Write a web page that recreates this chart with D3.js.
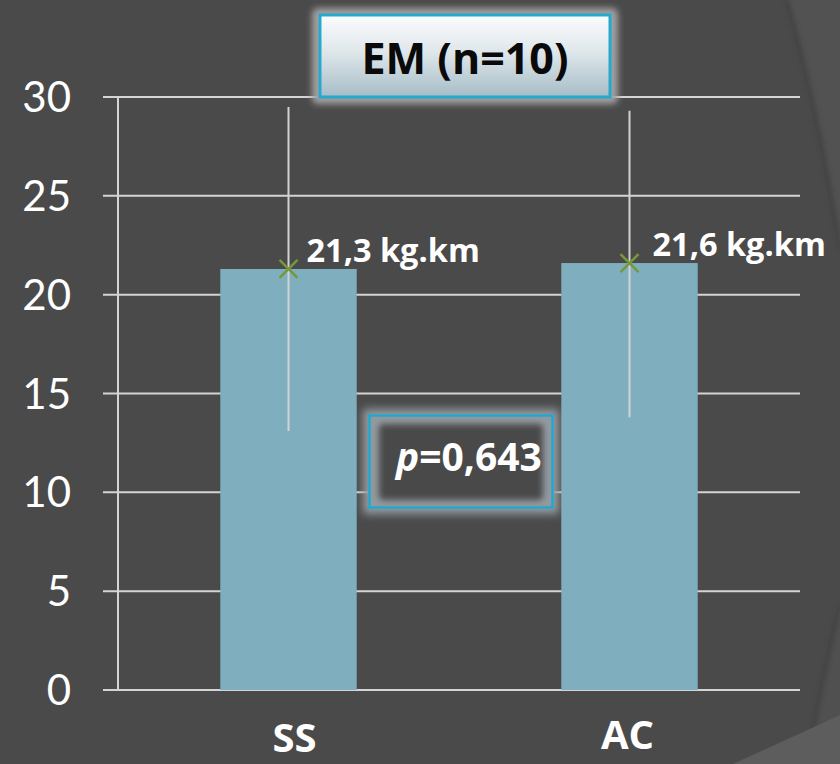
<!DOCTYPE html>
<html><head><meta charset="utf-8">
<script src="https://cdn.jsdelivr.net/npm/d3@7"></script>
<style>html,body{margin:0;padding:0;background:#4a4a4a;}svg{display:block;}</style>
</head><body>
<script>
const categories = ["SS", "AC"];
const means = [21.3, 21.6];
const errLow = [13.1, 13.8];
const errHigh = [29.5, 29.3];
const valueLabels = ["21,3 kg.km", "21,6 kg.km"];
const yTicks = [0, 5, 10, 15, 20, 25, 30];
const title = "EM (n=10)";
const pText = ["p", "=0,643"];

const W = 840, H = 764;
const FONT = "Lato, 'Open Sans', sans-serif";
const BFONT = "'Open Sans', Lato, sans-serif";
const svg = d3.select("body").append("svg").attr("width", W).attr("height", H);
const defs = svg.append("defs");
defs.append("filter").attr("id","blur4").attr("x","-20%").attr("y","-30%").attr("width","140%").attr("height","160%")
  .append("feGaussianBlur").attr("stdDeviation", 4);
defs.append("filter").attr("id","blur3").attr("x","-20%").attr("y","-30%").attr("width","140%").attr("height","160%")
  .append("feGaussianBlur").attr("stdDeviation", 3);
defs.append("filter").attr("id","blur2").append("feGaussianBlur").attr("stdDeviation", 2);
const grad = defs.append("linearGradient").attr("id","tgrad").attr("x1",0).attr("y1",0).attr("x2",0).attr("y2",1);
grad.append("stop").attr("offset","0%").attr("stop-color","#fbfcfd");
grad.append("stop").attr("offset","45%").attr("stop-color","#dfe7eb");
grad.append("stop").attr("offset","100%").attr("stop-color","#a6bcc6");

// background
svg.append("rect").attr("width", W).attr("height", H).attr("fill", "#4a4a4a");
// decorative curves
svg.append("path").attr("d","M787,0 Q818,110 840,248 L840,0 Z").attr("fill","#525252");
svg.append("path").attr("d","M787,0 Q818,110 840,248").attr("fill","none").attr("stroke","#424242").attr("stroke-width",4).attr("filter","url(#blur2)");
svg.append("path").attr("d","M840,605 Q820,690 807,764 L840,764 Z").attr("fill","#505050");
svg.append("path").attr("d","M840,605 Q820,690 807,764").attr("fill","none").attr("stroke","#434343").attr("stroke-width",4).attr("filter","url(#blur2)");
svg.append("path").attr("d","M733,764 L840,715 L840,764 Z").attr("fill","#5d5d5d");

const x0 = 118, x1 = 800, yTop = 97, yBot = 690;
const x = d3.scaleBand().domain(categories).range([x0, x1]).padding(0);
const y = d3.scaleLinear().domain([0, 30]).range([yBot, yTop]);
const barW = x.bandwidth() * 0.4;

// p-value box (behind gridlines)
const pb = svg.append("g");
pb.append("rect").attr("x",363).attr("y",409).attr("width",196).attr("height",105).attr("fill","#939ba0").attr("filter","url(#blur4)");
pb.append("rect").attr("x",379).attr("y",424).attr("width",164).attr("height",76).attr("rx",4).attr("fill","#4a4a4a").attr("filter","url(#blur3)");

// gridlines
svg.append("g").selectAll("line").data(yTicks).join("line")
  .attr("x1", x0 - 15).attr("x2", x1).attr("y1", d => y(d)).attr("y2", d => y(d))
  .attr("stroke", "#d4d4d4").attr("stroke-width", 2);
// y axis line
svg.append("line").attr("x1", x0).attr("x2", x0).attr("y1", yTop).attr("y2", yBot).attr("stroke","#d4d4d4").attr("stroke-width",2);

// p box border
pb.raise();
pb.append("rect").attr("x",369.5).attr("y",415.5).attr("width",183).attr("height",92).attr("fill","none").attr("stroke","#22a8d0").attr("stroke-width",2.5);
const pt = pb.append("text").attr("x",396).attr("y",471).attr("font-family",BFONT).attr("font-weight","bold").attr("font-size",39).attr("fill","#ffffff");
pt.append("tspan").attr("font-style","italic").text(pText[0]);
pt.append("tspan").text(pText[1]);

// y tick labels
svg.append("g").selectAll("text").data(yTicks).join("text")
  .attr("x", 71).attr("y", d => y(d) + 15).attr("text-anchor","end")
  .attr("font-family", FONT).attr("font-size", 42).attr("fill","#ffffff").text(d => d);

// bars
svg.append("g").selectAll("rect").data(categories).join("rect")
  .attr("x", d => x(d) + (x.bandwidth() - barW) / 2).attr("width", barW)
  .attr("y", (d,i) => y(means[i])).attr("height", (d,i) => yBot - y(means[i]))
  .attr("fill", "#7fafbf");

// error bars
svg.append("g").selectAll("line").data(categories).join("line")
  .attr("x1", d => x(d) + x.bandwidth()/2).attr("x2", d => x(d) + x.bandwidth()/2)
  .attr("y1", (d,i) => y(errHigh[i])).attr("y2", (d,i) => y(errLow[i]))
  .attr("stroke", "#d2d2d2").attr("stroke-width", 2);

// X markers
svg.append("g").selectAll("path").data(categories).join("path")
  .attr("d", (d,i) => { const cx = x(d) + x.bandwidth()/2, cy = y(means[i]), r = 9;
    return `M${cx-r},${cy-r}L${cx+r},${cy+r}M${cx-r},${cy+r}L${cx+r},${cy-r}`; })
  .attr("stroke", "#77983a").attr("stroke-width", 2.5).attr("fill","none");

// value labels
svg.append("g").selectAll("text").data(categories).join("text")
  .attr("x", (d,i) => x(d) + x.bandwidth()/2 + (i === 0 ? 18 : 23)).attr("y", (d,i) => y(means[i]) - 7)
  .attr("font-family", BFONT).attr("font-weight","bold").attr("font-size", 32.5).attr("fill","#ffffff")
  .text((d,i) => valueLabels[i]);

// category labels
svg.append("g").selectAll("text").data(categories).join("text")
  .attr("x", (d,i) => x(d) + x.bandwidth()/2 + (i === 0 ? 6 : -2)).attr("y", (d,i) => i === 0 ? 752 : 749).attr("text-anchor","middle")
  .attr("font-family", BFONT).attr("font-weight","bold").attr("font-size", 40).attr("fill","#ffffff")
  .text(d => d);

// title box
const tb = svg.append("g");
tb.append("rect").attr("x",312).attr("y",8).attr("width",306).attr("height",96).attr("rx",6).attr("fill","#a0a0a0").attr("filter","url(#blur3)");
tb.append("rect").attr("x",320).attr("y",15).attr("width",290).attr("height",82).attr("fill","url(#tgrad)").attr("stroke","#25a9cf").attr("stroke-width",3);
tb.append("text").attr("x",465).attr("y",74).attr("text-anchor","middle")
  .attr("font-family",BFONT).attr("font-weight","bold").attr("font-size",43).attr("fill","#0a0a0a").text(title);
</script>
</body></html>
